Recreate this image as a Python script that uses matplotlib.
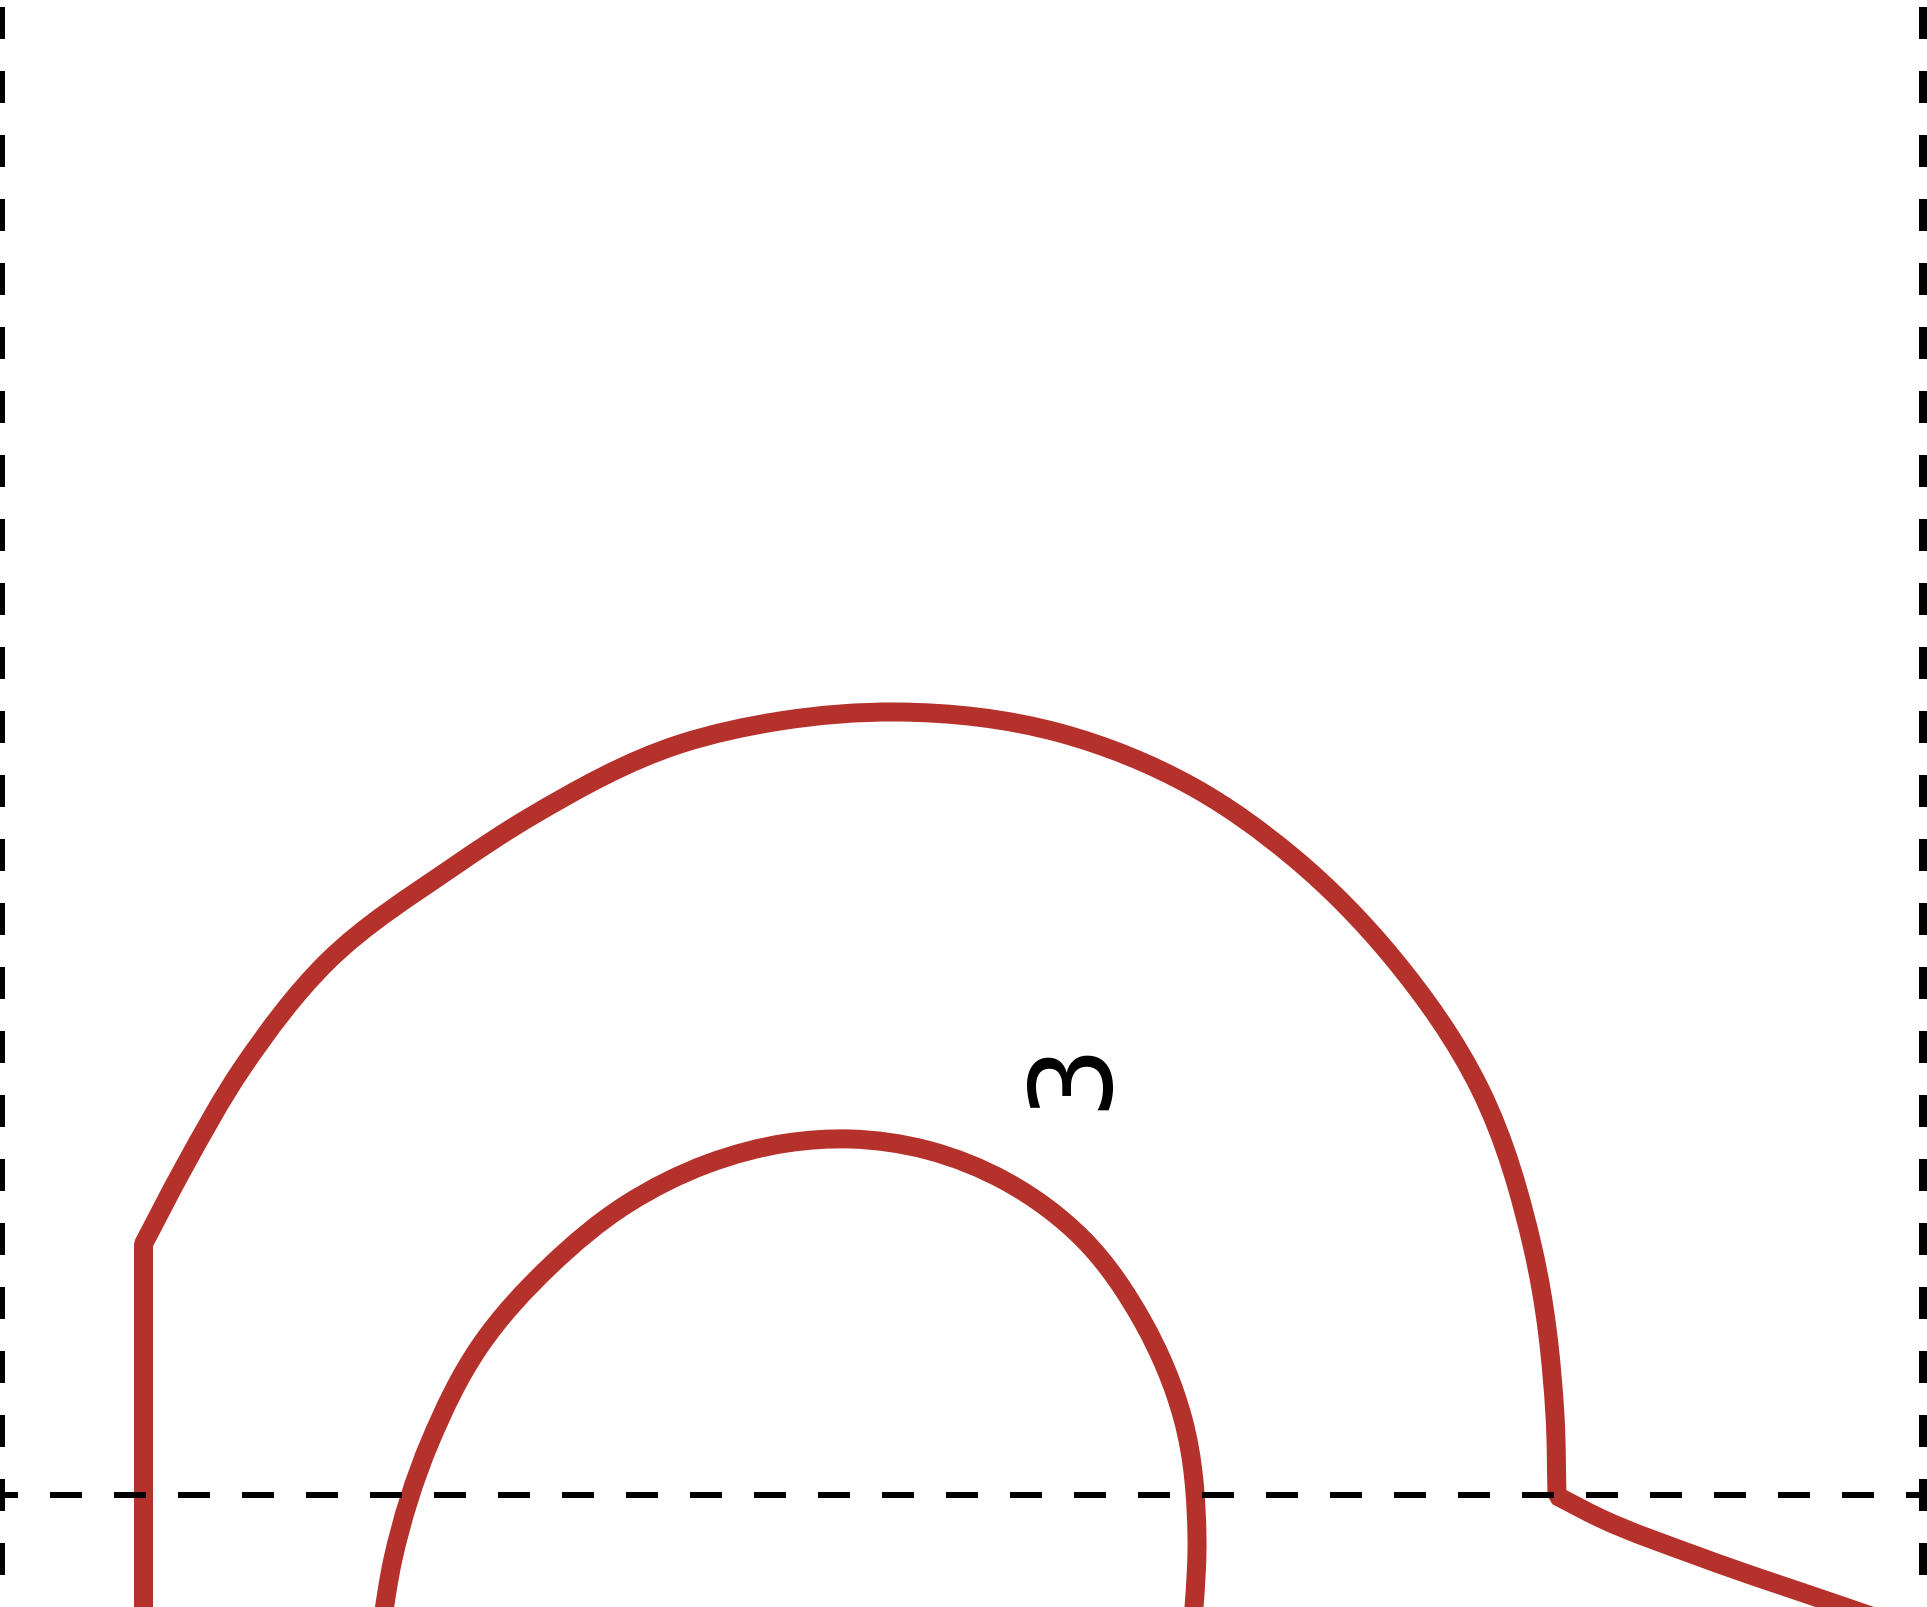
import math
import matplotlib
matplotlib.use("Agg")
import matplotlib.pyplot as plt
from matplotlib.path import Path
from matplotlib.patches import PathPatch

plt.rcParams['lines.scale_dashes'] = False

# Values (x to the right, y downward)
outer_left_x = [143.5, 143.5]
outer_left_y = [1620, 1245]
outer_arc_x = [143.5, 183, 243, 327, 453, 530, 680, 780, 897, 1060, 1193, 1293, 1392, 1480, 1533, 1555, 1557]
outer_arc_y = [1245, 1170, 1068, 963, 868, 818, 745, 722, 713, 734, 788, 858, 958, 1090, 1250, 1417, 1497]
outer_tail_x = [1557, 1600, 1700, 1842, 1900]
outer_tail_y = [1497, 1519, 1558, 1607, 1627]
inner_x = [381, 393, 430, 480, 550, 627, 707, 787, 850, 927, 1007, 1083, 1143, 1183, 1197, 1194, 1191]
inner_y = [1630, 1560, 1443, 1347, 1267, 1205, 1165, 1144, 1140, 1151, 1183, 1240, 1323, 1420, 1540, 1608, 1640]

frame_left = 0
frame_right = 1924
zero_level = 1496
frame_top = 0
frame_bottom = 1608
contour_label = "3"
label_x = 1072
label_y = 1074

PX = 72 / 100
RED = "#b5312c"


def add_smooth(verts, codes, xs, ys):
    """Append a smooth curve passing through every read point."""
    pts = list(zip(xs, ys))
    n = len(pts)
    tangents = []
    for i in range(n):
        if i == 0 or i == n - 1:
            a, b = pts[max(i - 1, 0)], pts[min(i + 1, n - 1)]
            d = math.hypot(b[0] - a[0], b[1] - a[1]) or 1
            tangents.append(((b[0] - a[0]) / d, (b[1] - a[1]) / d))
            continue
        a, p, b = pts[i - 1], pts[i], pts[i + 1]
        d0 = math.hypot(p[0] - a[0], p[1] - a[1])
        d1 = math.hypot(b[0] - p[0], b[1] - p[1])
        tx = ((p[0] - a[0]) / d0 * d1 + (b[0] - p[0]) / d1 * d0) / (d0 + d1)
        ty = ((p[1] - a[1]) / d0 * d1 + (b[1] - p[1]) / d1 * d0) / (d0 + d1)
        m = math.hypot(tx, ty)
        tangents.append((tx / m, ty / m))
    if not verts:
        verts.append(pts[0])
        codes.append(Path.MOVETO)
    for i in range(n - 1):
        p, q = pts[i], pts[i + 1]
        h = math.hypot(q[0] - p[0], q[1] - p[1]) / 3
        verts += [(p[0] + tangents[i][0] * h, p[1] + tangents[i][1] * h),
                  (q[0] - tangents[i + 1][0] * h, q[1] - tangents[i + 1][1] * h), q]
        codes += [Path.CURVE4] * 3


fig = plt.figure(figsize=(19.27, 16.08), dpi=100, facecolor="white")
ax = fig.add_axes([0, 0, 1, 1])
ax.set_xlim(0, 1927)
ax.set_ylim(1608, 0)
ax.axis("off")

verts, codes = [], []
add_smooth(verts, codes, outer_left_x, outer_left_y)
add_smooth(verts, codes, outer_arc_x, outer_arc_y)
add_smooth(verts, codes, outer_tail_x, outer_tail_y)
inner_verts, inner_codes = [], []
add_smooth(inner_verts, inner_codes, inner_x, inner_y)
for v, c in ((verts, codes), (inner_verts, inner_codes)):
    ax.add_patch(PathPatch(Path(v, c), fill=False, edgecolor=RED, lw=19 * PX,
                           joinstyle="bevel", capstyle="butt", zorder=2))

for x in (frame_left, frame_right):
    ax.plot([x, x], [frame_top, frame_bottom], color="black", lw=10 * PX, dash_capstyle="butt",
            linestyle=(56 * PX, (32 * PX, 32 * PX)), zorder=3)
ax.plot([frame_left, 1927], [zero_level, zero_level], color="black", lw=6 * PX, dash_capstyle="butt",
        linestyle=(14 * PX, (32 * PX, 32 * PX)), zorder=3)

ax.text(label_x, label_y, contour_label, rotation=90, ha="center", va="center",
        fontsize=82, color="black", family="DejaVu Sans", zorder=4)

fig.savefig("out.png", dpi=100, facecolor="white")
